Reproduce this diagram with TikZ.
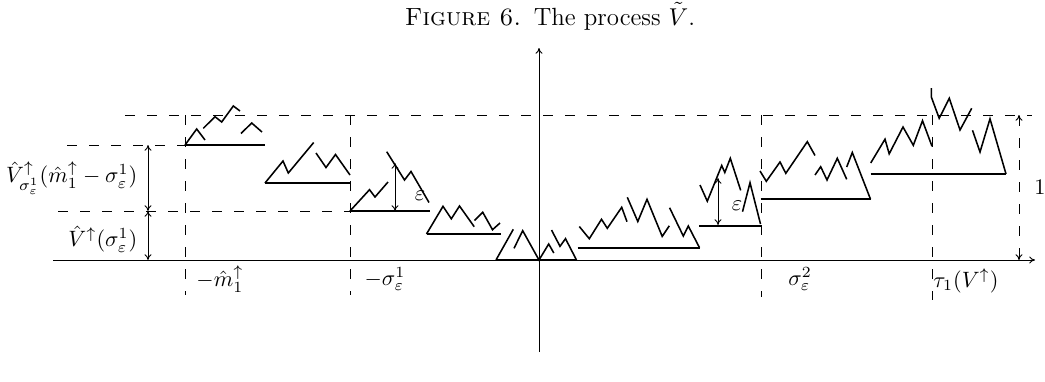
\documentclass[tikz,border=0pt]{standalone}
\usetikzlibrary{arrows.meta}
\begin{document}
\begin{tikzpicture}[x=0.45pt,y=-0.45pt,
  axis/.style={line width=0.45pt},
  base/.style={line width=0.9pt},
  zz/.style={line width=0.7pt, line join=miter},
  guide/.style={line width=0.45pt, dash pattern=on 4.5pt off 5.4pt},
  meas/.style={line width=0.4pt, {To[length=2.6pt,width=3.2pt]}-{To[length=2.6pt,width=3.2pt]}},
  lab/.style={inner sep=1pt}]
\useasboundingbox (0,0) rectangle (1045,381);

% title
\node[inner sep=0pt,anchor=base,font=\fontsize{11.2}{13.5}\selectfont] (title) at (550,25) {\textsc{Figure 6.}\enspace The process $\tilde V$.};

% axes
\coordinate (xl) at (53,260); \coordinate (xr) at (1035,260);
\coordinate (yb) at (539,352); \coordinate (yt) at (539,48);
\draw[axis,-{To[length=2.6pt,width=3.2pt]}] (xl) -- (xr);
\draw[axis,-{To[length=2.6pt,width=3.2pt]}] (yb) -- (yt);

% dashed guides
\coordinate (gtl) at (125,115); \coordinate (gtr) at (1032,115);
\draw[guide] (gtl) -- (gtr);
\coordinate (g2l) at (67,145); \coordinate (g2r) at (185,145);
\draw[guide] (g2l) -- (g2r);
\coordinate (g3l) at (58,211); \coordinate (g3r) at (350,211);
\draw[guide] (g3l) -- (g3r);
\coordinate (v1t) at (185,115); \coordinate (v1b) at (185,295);
\draw[guide] (v1t) -- (v1b);
\coordinate (v2t) at (350,115); \coordinate (v2b) at (350,295);
\draw[guide] (v2t) -- (v2b);
\coordinate (v3t) at (761,115); \coordinate (v3b) at (761,297);
\draw[guide] (v3t) -- (v3b);
\coordinate (v4t) at (932,115); \coordinate (v4b) at (932,300);
\draw[guide] (v4t) -- (v4b);

% unit arrow
\coordinate (ut) at (1019,115); \coordinate (ub) at (1019,260);
\draw[guide,{To[length=2.6pt,width=3.2pt]}-{To[length=2.6pt,width=3.2pt]}] (ut) -- (ub);
\node[lab] (l1) at (1040,187) {$1$};

% measuring arrows
\coordinate (a1) at (148,145); \coordinate (a2) at (148,211); \coordinate (a3) at (148,260);
\draw[meas] (a1) -- (a2);
\draw[meas] (a2) -- (a3);
\coordinate (e1t) at (395,163); \coordinate (e1b) at (395,211);
\draw[meas] (e1t) -- (e1b);
\coordinate (e2t) at (718,178); \coordinate (e2b) at (718,225);
\draw[meas] (e2t) -- (e2b);

% labels
\node[lab,anchor=east] (lV2) at (140,178) {$\hat V^{\uparrow}_{\sigma^1_\varepsilon}(\hat m^{\uparrow}_1-\sigma^1_\varepsilon)$};
\node[lab,anchor=east] (lV1) at (140,239) {$\hat V^{\uparrow}(\sigma^1_\varepsilon)$};
\node[lab] (lm) at (220,279) {$-\hat m^{\uparrow}_1$};
\node[lab] (ls1) at (385,279) {$-\sigma^1_\varepsilon$};
\node[lab] (ls2) at (800,279) {$\sigma^2_\varepsilon$};
\node[lab] (lt) at (966,281) {$\tau_1(V^{\uparrow})$};
\node[lab] (le1) at (420,196) {$\varepsilon$};
\node[lab] (le2) at (737,206) {$\varepsilon$};

% piece A
\draw[base] (185,145) -- (265,145);
\draw[zz] (185,145) -- (196.7,129) -- (205,140);
\draw[zz] (203.3,128.3) -- (215,116.7) -- (221.7,122) -- (233.3,106) -- (240,111);
\draw[zz] (241,133.5) -- (251.7,123) -- (262,132);
% piece B
\draw[base] (265,183) -- (351,183);
\draw[zz] (265,183) -- (283,161) -- (288.3,173) -- (313.7,142.5);
\draw[zz] (316,153) -- (326,167.5) -- (335.5,154.5) -- (350,175);
% piece C
\draw[base] (350,211) -- (430,211);
\draw[zz] (350,211) -- (369.5,189.7) -- (375,197) -- (388,182);
\draw[zz] (386.7,151.7) -- (404.5,180) -- (411,171.5) -- (429,202.5);
% piece D
\draw[base] (426.5,234) -- (501,234);
\draw[zz] (426.5,234) -- (443,206.3) -- (451.3,218.8) -- (459.5,206) -- (474.2,226.7);
\draw[zz] (474.5,220.5) -- (482.7,212.2) -- (492.5,229.7) -- (500,223);
% piece E
\draw[base] (496,260) -- (576.5,260);
\draw[zz] (496,260) -- (513.3,229.3);
\draw[zz] (514,248.3) -- (522.7,230.7) -- (539,260) -- (548.7,244) -- (553.8,253);
\draw[zz] (551.5,230) -- (560,246.3) -- (565.5,238.7) -- (576.5,260);
% piece F
\draw[base] (577.5,247.7) -- (699.5,247.7);
\draw[zz] (579.3,226.5) -- (589.3,238.7) -- (601.5,219.3) -- (607.3,228.3) -- (621.7,207.3) -- (627,221.7);
\draw[zz] (627.3,197.3) -- (637.8,221.5) -- (647,199.3) -- (662.2,236.4) -- (669.3,225.8);
\draw[zz] (669.6,207.8) -- (683.3,236) -- (688.3,226) -- (699.5,247.7);
% piece G
\draw[base] (699,225.7) -- (761.5,225.7);
\draw[zz] (700,185) -- (707.3,201.2) -- (721.7,165.5) -- (724.8,172.5) -- (730.3,158.3) -- (740.7,190.4);
\draw[zz] (742.5,211.7) -- (750,182.7) -- (760.5,224);
% piece H
\draw[base] (760.5,199.2) -- (870.5,199.2);
\draw[zz] (760,171) -- (766.3,181.3) -- (780,162) -- (785.8,173.3) -- (807.3,141.7) -- (815,155.5);
\draw[zz] (815,175) -- (820.7,166.7) -- (827,180) -- (837.3,158.3) -- (846.7,179.3);
\draw[zz] (846.7,167) -- (852.3,152.5) -- (870.5,199.2);
% piece I
\draw[base] (870.5,174) -- (1006,174);
\draw[zz] (870.7,163) -- (885,139.2) -- (889.2,153.8) -- (903,127) -- (913.3,145.3) -- (922.5,120.7) -- (932,146.3);
\draw[zz] (931.3,88) -- (931.3,97) -- (939.2,118.3) -- (949.3,98.3) -- (960,130) -- (971.7,108.3);
\draw[zz] (972.5,130.3) -- (980,152) -- (990,118.8) -- (1006,174);
\end{tikzpicture}
\end{document}
